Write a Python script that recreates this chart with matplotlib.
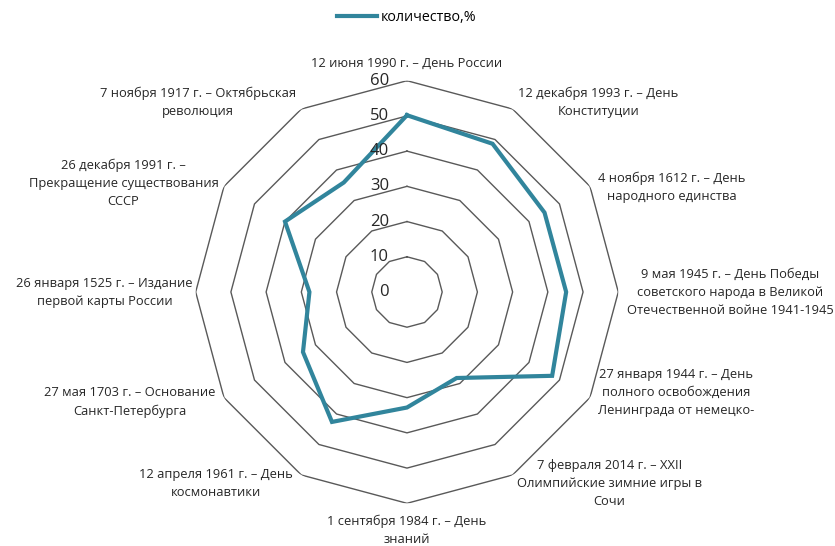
import numpy as np
import matplotlib.pyplot as plt

plt.rcParams['font.family'] = ['Open Sans', 'DejaVu Sans']

# данные диаграммы
categories = [
    '12 июня 1990 г. – День России',
    '12 декабря 1993 г. – День\nКонституции',
    '4 ноября 1612 г. – День\nнародного единства',
    '9 мая 1945 г. – День Победы\nсоветского народа в Великой\nОтечественной войне 1941-1945',
    '27 января 1944 г. – День\nполного освобождения\nЛенинграда от немецко-',
    '7 февраля 2014 г. – XXII\nОлимпийские зимние игры в\nСочи',
    '1 сентября 1984 г. – День\nзнаний',
    '12 апреля 1961 г. – День\nкосмонавтики',
    '27 мая 1703 г. – Основание\nСанкт-Петербурга',
    '26 января 1525 г. – Издание\nпервой карты России',
    '26 декабря 1991 г. –\nПрекращение существования\nСССР',
    '7 ноября 1917 г. – Октябрьская\nреволюция',
]
values = [50.2, 48.6, 45.1, 45.2, 47.6, 28.2, 32.8, 42.6, 34.1, 27.7, 40.0, 35.9]
levels = [0, 10, 20, 30, 40, 50, 60]
series_name = 'количество,%'

line_color = '#31859C'
grid_color = '#595959'

n = len(categories)
angles = np.linspace(0, 2 * np.pi, n, endpoint=False)
closed = np.append(angles, angles[0])

fig = plt.figure(figsize=(8.35, 5.46), dpi=100)
ax = fig.add_axes([0.2343, 0.0782, 0.5062, 0.774], projection='polar')
ax.set_theta_zero_location('N')
ax.set_theta_direction(-1)
ax.set_ylim(0, 60)
ax.grid(False)
ax.spines['polar'].set_visible(False)
ax.set_xticks([])
ax.set_yticks([])

# многоугольная сетка
for lv in levels[1:]:
    ax.plot(closed, [lv] * (n + 1), color=grid_color, lw=1.0, zorder=1)

# ряд данных
line, = ax.plot(closed, values + values[:1], color=line_color, lw=3.0,
                solid_joinstyle='miter', zorder=3, label=series_name)

# подписи делений
for lv in levels:
    ax.annotate(str(lv), xy=(0, lv), xytext=(-13, 0), textcoords='offset points',
                ha='right', va='center', fontsize=12, color='#262626')

# смещения подписей категорий (в пунктах), по углу
offsets = {0: (0, 8, 'center', 'bottom'),
           30: (4, 5, 'left', 'center'),
           60: (6, -1, 'left', 'center'),
           90: (6, 0, 'left', 'center'),
           120: (6, 4, 'left', 'center'),
           150: (3, -6, 'left', 'center'),
           180: (0, -8, 'center', 'top'),
           210: (-6, -6, 'right', 'center'),
           240: (-6, -3, 'right', 'center'),
           270: (-2, 0, 'right', 'center'),
           300: (-4, 2, 'right', 'center'),
           330: (-4, 5, 'right', 'center')}

for ang, lab in zip(angles, categories):
    deg = int(round(np.degrees(ang)))
    dx, dy, ha, va = offsets[deg]
    ax.annotate(lab, xy=(ang, 60), xytext=(dx, dy), textcoords='offset points',
                ha=ha, va=va, multialignment='center', fontsize=9.3,
                linespacing=1.5, color='#262626', annotation_clip=False)

fig.legend(handles=[line], loc='upper center', bbox_to_anchor=(0.487, 1.005),
           frameon=False, fontsize=10.3, handlelength=2.8, handletextpad=0.3)

fig.savefig('out.png', dpi=100)
